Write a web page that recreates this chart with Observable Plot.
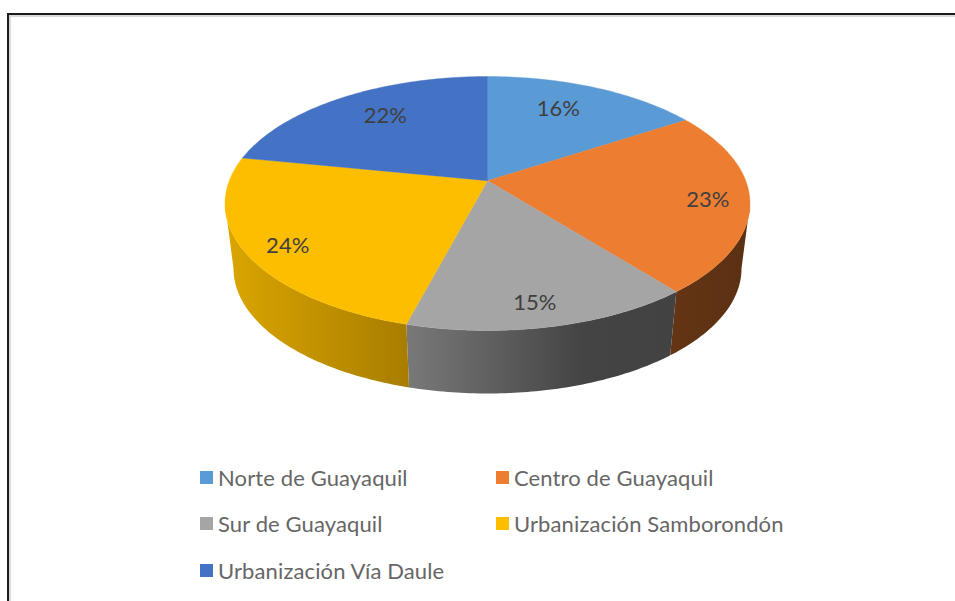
<!DOCTYPE html>
<html lang="es">
<head>
<meta charset="utf-8">
<title>Distribución por sector</title>
<script src="https://cdn.jsdelivr.net/npm/d3@7"></script>
<script src="https://cdn.jsdelivr.net/npm/@observablehq/plot@0.6"></script>
<style>
  html, body { margin: 0; padding: 0; width: 955px; height: 601px; overflow: hidden; background: #fff; }
  #frame { position: absolute; left: 7px; top: 13px; width: 1200px; height: 900px; box-sizing: border-box;
           border: 2px solid #1c1c1c; box-shadow: inset 2px 2px 1px #d9d9d9; }
  #chart { position: absolute; left: 0; top: 0; }
  #legend { position: absolute; left: 200px; top: 454px; display: grid; grid-template-columns: 296px 300px;
            grid-auto-rows: 46.5px; font: 22px Lato, sans-serif; letter-spacing: 0.12px; color: #666; }
  #legend div { display: flex; align-items: center; height: 46px; white-space: nowrap; }
  #legend i { width: 13px; height: 13px; margin-right: 5px; flex: none; }
</style>
</head>
<body>
<div id="frame"></div>
<div id="chart"></div>
<div id="legend"></div>
<script>
const categories = ["Norte de Guayaquil", "Centro de Guayaquil", "Sur de Guayaquil", "Urbanización Samborondón", "Urbanización Vía Daule"];
const percentLabels = [16, 23, 15, 24, 22];
// Sweep of each slice as it appears on the tilted pie, degrees
const apparentSweep = [49, 85, 64, 93, 69];
// Direction of each percent label from the pie centre, degrees clockwise from 12 o'clock
const labelBearing = [20, 88, 167, 246.5, 330.5];
// Distance of each percent label from the pie centre, as a share of the radius
const labelReach = [0.79, 0.84, 0.80, 0.83, 0.79];
const colors = ["#5b9bd5", "#ed7d31", "#a5a5a5", "#fdbe00", "#4472c4"];

// Pie geometry in unit-disc space
const apex = {x: 0, y: 0.18};
const rim = {rx: 254 / 262.5, ry: 125 / 127, cy: -65 / 127};

const rad = d => d * Math.PI / 180;
const edges = d3.cumsum([0, ...apparentSweep]);
const arc = (a, b) => d3.range(a, b, 1).concat(b);

const topPts = categories.flatMap((name, i) => {
  const pts = arc(edges[i], edges[i + 1]).map(t => ({name, x: Math.sin(rad(t)), y: Math.cos(rad(t))}));
  return [{name, ...apex}, ...pts, {name, ...apex}];
});

function wall(a, b) {
  const ts = arc(a, b);
  return [
    ...ts.map(t => ({x: Math.sin(rad(t)), y: Math.cos(rad(t))})),
    ...ts.slice().reverse().map(t => ({x: rim.rx * Math.sin(rad(t)), y: rim.cy + rim.ry * Math.cos(rad(t))}))
  ];
}
const walls = [
  {id: "wallOrange", pts: wall(90, edges[2]), stops: [[0, "#633514"], [1, "#5b3012"]]},
  {id: "wallGray", pts: wall(edges[2], edges[3]), stops: [[0, "#797979"], [0.65, "#444444"], [1, "#424242"]]},
  {id: "wallYellow", pts: wall(edges[3], 270), stops: [[0, "#dba600"], [1, "#a87d00"]]}
];

const labelData = percentLabels.map((p, i) => ({
  text: `${p}%`,
  x: labelReach[i] * Math.sin(rad(labelBearing[i])),
  y: labelReach[i] * Math.cos(rad(labelBearing[i]))
}));

function gradients() {
  const g = d3.create("svg:g");
  const defs = g.append("defs");
  for (const w of walls) {
    const lg = defs.append("linearGradient").attr("id", w.id);
    for (const [o, c] of w.stops) lg.append("stop").attr("offset", o).attr("stop-color", c);
  }
  return g.node();
}

const plot = Plot.plot({
  width: 955,
  height: 445,
  margin: 0,
  style: {background: "transparent"},
  x: {axis: null, domain: [-1, 1], range: [224.5, 749.5]},
  y: {axis: null, domain: [-1, 1], range: [330, 76]},
  color: {domain: categories, range: colors},
  marks: [
    gradients,
    ...walls.map(w => Plot.line(w.pts, {x: "x", y: "y", fill: `url(#${w.id})`, stroke: "none"})),
    Plot.line(topPts, {x: "x", y: "y", z: "name", fill: "name", stroke: "name", strokeWidth: 0.4}),
    Plot.text(labelData, {x: "x", y: "y", text: "text", fontSize: 22, fontFamily: "Lato, sans-serif", fill: "#404040"})
  ]
});
document.getElementById("chart").append(plot);

const legend = d3.select("#legend");
categories.forEach((name, i) => {
  const row = legend.append("div");
  row.append("i").style("background", colors[i]);
  row.append("span").text(name);
});
</script>
</body>
</html>
